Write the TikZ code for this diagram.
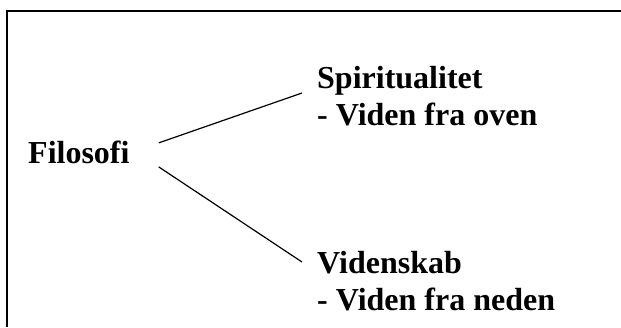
\documentclass[tikz,border=0pt]{standalone}
\usepackage{fontspec}
\setmainfont{Liberation Serif}
\begin{document}
\begin{tikzpicture}[
        x=1pt, y=-1pt,
        label/.style={font=\bfseries\fontsize{32}{37}\selectfont, inner sep=0pt, anchor=base west, align=left},
        link/.style={line width=1.2pt},
        frame/.style={line width=1.6pt}
    ]
    \useasboundingbox (0,0) rectangle (621,327);
    \draw[frame] (621,11) -- (7,11) -- (7,327);
    
    \node[label] (filo) at (28,163) {Filosofi};
    \node[label] (spirit) at (317,125) {Spiritualitet\\- Viden fra oven};
    \node[label] (viden) at (317,310) {Videnskab\\- Viden fra neden};
    
    \draw[link] ([shift={(29pt,9pt)}]filo.east) -- ([shift={(-15pt,32pt)}]spirit.base west);
    \draw[link] ([shift={(29pt,-15pt)}]filo.east) -- ([shift={(-15pt,48pt)}]viden.base west);
    
    \end{tikzpicture}
\end{document}
